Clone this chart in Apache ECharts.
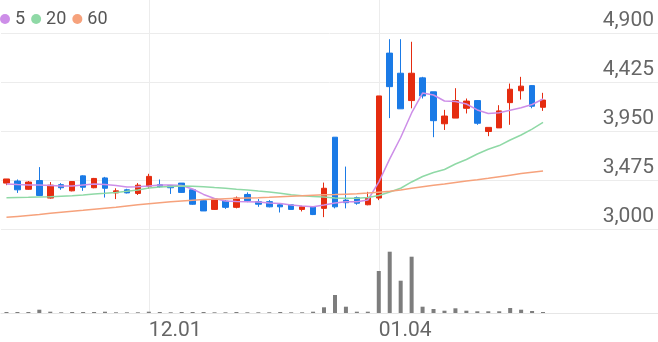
<!DOCTYPE html>
<html><head><meta charset="utf-8">
<script src="https://cdn.jsdelivr.net/npm/echarts@6/dist/echarts.min.js"></script>
<style>html,body{margin:0;padding:0;background:#fff}#c{width:658px;height:342px}</style>
</head><body><div id="c"></div>
<script>
const dates = ['11.14','11.15','11.16','11.17','11.20','11.21','11.22','11.23','11.24','11.27','11.28','11.29','11.30',
  '12.01','12.04','12.05','12.06','12.07','12.08','12.11','12.12','12.13','12.14','12.15','12.18','12.19','12.20','12.21','12.22','12.26','12.27','12.28','01.02','01.03',
  '01.04','01.05','01.08','01.09','01.10','01.11','01.12','01.15','01.16','01.17','01.18','01.19','01.22','01.23','01.24','01.25'];
const opens  = [3445,3465,3385,3470,3300,3430,3370,3515,3400,3495,3350,3380,3345,3415,3430,3420,3445,3380,3275,3190,3270,3210,3335,3265,3265,3235,3235,3190,3215,3200,3890,3280,3305,3235,3300,4705,4510,4245,4465,4330,4020,4075,4170,4245,3945,3980,4225,4340,4390,4180];
const closes = [3485,3380,3455,3325,3425,3400,3460,3405,3490,3395,3370,3350,3425,3510,3410,3400,3355,3240,3175,3290,3210,3300,3275,3240,3215,3215,3190,3215,3140,3395,3215,3255,3250,3305,4290,4380,4165,4510,4290,4050,4095,4245,4240,4025,3985,4145,4355,4385,4190,4250];
const lows   = [3425,3350,3380,3320,3295,3380,3365,3370,3395,3305,3290,3345,3330,3390,3400,3340,3350,3235,3175,3185,3195,3200,3260,3215,3210,3160,3190,3170,3135,3115,3200,3200,3235,3230,3280,4075,4165,4170,4265,3890,3960,4075,4120,4010,3900,3980,4010,4255,4170,4145];
const highs  = [3485,3480,3465,3600,3455,3445,3465,3520,3495,3505,3395,3390,3445,3535,3480,3420,3445,3385,3285,3295,3280,3315,3355,3290,3280,3250,3240,3225,3220,3450,3890,3605,3315,3360,4290,4840,4840,4815,4475,4330,4155,4365,4265,4250,3985,4200,4410,4475,4395,4320];
const volumes = [100,100,100,330,130,70,100,100,100,130,70,70,70,130,100,70,100,100,100,70,70,100,70,70,70,100,70,70,130,570,1800,630,130,130,4200,6130,3230,5630,630,400,230,470,230,170,170,170,500,330,200,100];
const ma5  = [3436,3431,3427,3427,3422,3417,3417,3427,3436,3431,3422,3407,3410,3417,3427,3427,3422,3388,3335,3296,3271,3267,3265,3262,3252,3247,3233,3223,3216,3233,3252,3265,3265,3281,3455,3680,3887,4125,4318,4299,4241,4236,4212,4154,4120,4127,4152,4175,4207,4260];
const ma20 = [3303,3305,3307,3310,3313,3318,3323,3330,3339,3346,3354,3365,3378,3397,3407,3412,3417,3414,3410,3402,3395,3385,3378,3368,3359,3346,3333,3323,3315,3310,3301,3298,3298,3305,3325,3359,3395,3456,3509,3548,3577,3630,3674,3727,3773,3809,3863,3911,3969,4034];
const ma60 = [3113,3122,3131,3140,3152,3162,3172,3181,3191,3201,3210,3223,3235,3245,3254,3263,3271,3279,3285,3289,3293,3297,3300,3303,3307,3312,3317,3322,3327,3331,3334,3338,3342,3349,3357,3365,3378,3395,3409,3423,3436,3451,3465,3478,3492,3507,3522,3537,3551,3562];
const yTickMin = 3000, yTickMax = 4900, yTickStep = 475;
const markedDates = ['12.01', '01.04'];
const maNames = ['5', '20', '60'];
const maColors = ['#cd8ee8', '#8fd9a6', '#f6a27c'];

const UP = '#e52c10', DOWN = '#1a7ae6';
const candleData = opens.map((o, i) => [o, closes[i], lows[i], highs[i]]);
const showMarked = (idx, val) => markedDates.includes(val);
const slots = 59;

const chart = echarts.init(document.getElementById('c'));
chart.setOption({
  animation: false,
  textStyle: { fontFamily: 'Roboto' },
  legend: {
    left: 0, top: 10, padding: 0, icon: 'circle', itemWidth: 10, itemHeight: 10, itemGap: 6,
    textStyle: { fontSize: 18, color: '#555', fontFamily: 'Roboto' },
    data: maNames
  },
  grid: [
    { left: 1, right: 0, top: 33, height: 196 },
    { left: 1, right: 0, top: 240, bottom: 29 },
    { left: 6.475, right: 5.475, top: 0, bottom: 29 }
  ],
  xAxis: [
    { type: 'category', gridIndex: 0, data: dates, max: slots, boundaryGap: true, show: false },
    { type: 'category', gridIndex: 1, data: dates, max: slots, boundaryGap: true,
      axisLine: { show: true, lineStyle: { color: '#e6e6e6' } }, axisTick: { show: false }, axisLabel: { show: false } },
    { type: 'category', gridIndex: 2, data: dates, max: slots, boundaryGap: false,
      axisLine: { show: false }, axisTick: { show: false, interval: showMarked },
      splitLine: { show: true, interval: showMarked, lineStyle: { color: '#ececec', width: 1 } },
      axisLabel: { show: true, interval: showMarked, align: 'left', margin: 7, fontSize: 21, color: '#666', fontFamily: 'Roboto' } }
  ],
  yAxis: [
    { type: 'value', gridIndex: 0, position: 'right', min: yTickMin, max: yTickMax, interval: yTickStep,
      axisLine: { show: false }, axisTick: { show: false },
      splitLine: { show: true, lineStyle: { color: '#ececec', width: 1 } },
      axisLabel: { inside: true, margin: 4, fontSize: 21, color: '#666', fontFamily: 'Roboto',
        verticalAlign: 'bottom', lineHeight: 21, padding: [0, 0, 2, 0],
        formatter: v => v.toLocaleString('en-US') } },
    { type: 'value', gridIndex: 1, min: 0, max: 7300, show: false, splitLine: { show: false } },
    { type: 'value', gridIndex: 2, show: false, splitLine: { show: false } }
  ],
  series: [
    { type: 'candlestick', xAxisIndex: 0, yAxisIndex: 0, data: candleData, barWidth: 6,
      itemStyle: { color: UP, color0: DOWN, borderColor: UP, borderColor0: DOWN, borderWidth: 1 } },
    { name: maNames[0], type: 'line', xAxisIndex: 0, yAxisIndex: 0, data: ma5, symbol: 'none',
      itemStyle: { color: maColors[0] }, lineStyle: { color: maColors[0], width: 1.5 } },
    { name: maNames[1], type: 'line', xAxisIndex: 0, yAxisIndex: 0, data: ma20, symbol: 'none',
      itemStyle: { color: maColors[1] }, lineStyle: { color: maColors[1], width: 1.5 } },
    { name: maNames[2], type: 'line', xAxisIndex: 0, yAxisIndex: 0, data: ma60, symbol: 'none',
      itemStyle: { color: maColors[2] }, lineStyle: { color: maColors[2], width: 1.5 } },
    { type: 'bar', xAxisIndex: 1, yAxisIndex: 1, data: volumes, barWidth: 4,
      itemStyle: { color: '#7d7d7d' } }
  ]
});
</script>
</body></html>
